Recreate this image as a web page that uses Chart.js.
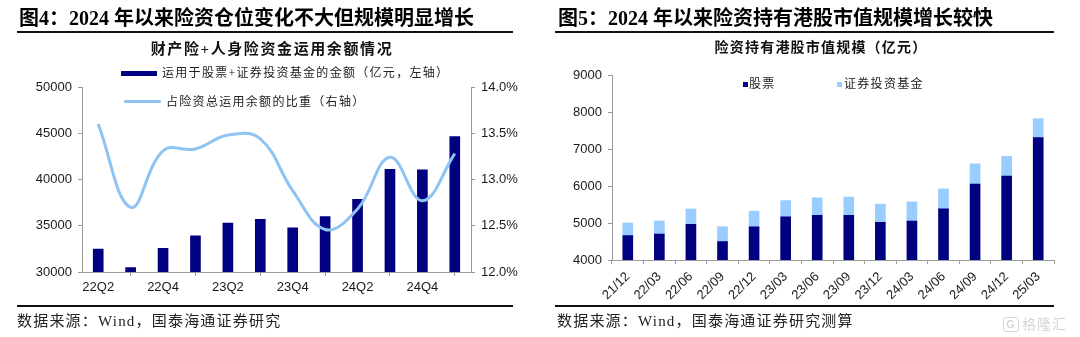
<!DOCTYPE html>
<html>
<head>
<meta charset="utf-8">
<script src="https://cdn.jsdelivr.net/npm/chart.js@4/dist/chart.umd.min.js"></script>
<style>
  html, body { margin: 0; padding: 0; background: #fff; }
  #page { position: relative; width: 1080px; height: 337px; overflow: hidden; background: #fff; }
  .cv { position: absolute; top: 0; width: 540px; height: 337px; }
  .ov { position: absolute; white-space: nowrap; pointer-events: none; color: #111; }
  .fig-title { font-family: "Liberation Serif", "Noto Sans CJK SC", serif; font-weight: bold; font-size: 20px; line-height: 24px; top: 6px; color: #000; }
  .rule { position: absolute; height: 2px; background: #111; }
  .sub { font-family: "Liberation Serif", "Noto Sans CJK SC", serif; font-weight: bold; line-height: 20px; text-align: center; }
  .lg { font-family: "Liberation Serif", "Noto Sans CJK SC", serif; font-size: 12px; line-height: 16px; letter-spacing: 1.3px; color: #222; }
  .src { font-family: "Liberation Serif", "Noto Sans CJK SC", serif; font-size: 15px; line-height: 20px; top: 311px; letter-spacing: 1.2px; color: #222; }
  .sw { position: absolute; }
  .wm { font-family: "Noto Sans CJK SC", sans-serif; font-size: 14px; line-height: 18px; color: #d6d6d6; top: 314px; left: 1003px; letter-spacing: 1px; }
  .wm b { display: inline-block; border: 1.5px solid #d6d6d6; border-radius: 3px; font-family: "Liberation Sans", sans-serif; font-size: 11px; line-height: 13px; width: 14px; text-align: center; margin-right: 3px; vertical-align: 1px; }
</style>
</head>
<body>
<div id="page">
  <canvas id="leftChart" class="cv" style="left:0" width="540" height="337"></canvas>
  <canvas id="rightChart" class="cv" style="left:540px" width="540" height="337"></canvas>

  <!-- left figure: headings, legend, source -->
  <div class="ov fig-title" style="left:19px">图4：2024 年以来险资仓位变化不大但规模明显增长</div>
  <div class="rule" style="left:17px; top:31px; width:496px"></div>
  <div class="ov sub" style="left:140px; width:264px; top:39px; font-size:15px; letter-spacing:1.6px">财产险+人身险资金运用余额情况</div>
  <div class="sw" style="left:121px; top:71px; width:36px; height:5px; background:#000080"></div>
  <div class="ov lg" style="left:162px; top:65px">运用于股票+证券投资基金的金额（亿元，左轴）</div>
  <div class="sw" style="left:124px; top:100px; width:37px; height:3px; background:#8EC3F2; border-radius:1px"></div>
  <div class="ov lg" style="left:166px; top:94px">占险资总运用余额的比重（右轴）</div>
  <div class="rule" style="left:17px; top:305px; width:496px"></div>
  <div class="ov src" style="left:17px">数据来源：Wind，国泰海通证券研究</div>

  <!-- right figure: headings, legend, source -->
  <div class="ov fig-title" style="left:558px">图5：2024 年以来险资持有港股市值规模增长较快</div>
  <div class="rule" style="left:555px; top:31px; width:499px"></div>
  <div class="ov sub" style="left:700px; width:242px; top:38px; font-size:14px; letter-spacing:1.2px">险资持有港股市值规模（亿元）</div>
  <div class="sw" style="left:743px; top:82px; width:5px; height:5px; background:#000080"></div>
  <div class="ov lg" style="left:749px; top:76px">股票</div>
  <div class="sw" style="left:837px; top:82px; width:5px; height:5px; background:#99CCFF"></div>
  <div class="ov lg" style="left:844px; top:76px">证券投资基金</div>
  <div class="rule" style="left:555px; top:305px; width:499px"></div>
  <div class="ov src" style="left:557px">数据来源：Wind，国泰海通证券研究测算</div>
  <div class="ov wm"><b>G</b>格隆汇</div>
</div>

<script>
// Figure 4: insurance funds in equities + securities investment funds
const quarters = ['22Q2', '22Q3', '22Q4', '23Q1', '23Q2', '23Q3', '23Q4', '24Q1', '24Q2', '24Q3', '24Q4', '25Q1'];
const equityFundAmount = [32480, 30480, 32550, 33900, 35300, 35700, 34780, 36000, 37850, 41100, 41050, 44650]; // 亿元
const equityFundShare = [13.60, 12.70, 13.31, 13.33, 13.48, 13.44, 12.88, 12.46, 12.68, 13.24, 12.77, 13.28];   // %
const leftAxisTicks = { min: 30000, max: 50000, step: 5000 };
const rightAxisTicks = { min: 12, max: 14, step: 0.5 };

// Figure 5: market value of Hong Kong stocks held by insurance funds
const periods = ['21/12', '22/03', '22/06', '22/09', '22/12', '23/03', '23/06', '23/09', '23/12', '24/03', '24/06', '24/09', '24/12', '25/03'];
const stockValue = [4660, 4700, 4965, 4495, 4895, 5170, 5210, 5210, 5020, 5055, 5380, 6050, 6270, 7310]; // 股票
const fundValue = [340, 355, 415, 405, 425, 435, 470, 490, 490, 515, 540, 550, 530, 510];                // 证券投资基金
const valueAxisTicks = { min: 4000, max: 9000, step: 1000 };

const NAVY = '#000080';
const LIGHT_BLUE = '#99CCFF';
const LINE_BLUE = '#8EC3F2';
const AXIS_GREY = '#9a9a9a';
const TICK_FONT = { family: '"Liberation Sans", Arial, sans-serif', size: 13 };
const TICK_COLOR = '#1a1a1a';

Chart.defaults.animation = false;
Chart.defaults.responsive = false;
Chart.defaults.devicePixelRatio = 1;

function fixWidth(w) { return function (scale) { scale.width = w; }; }
function fixHeight(h) { return function (scale) { scale.height = h; }; }

function sideAxis(position, range, fmt, width) {
  return {
    type: 'linear',
    position: position,
    min: range.min,
    max: range.max,
    afterFit: fixWidth(width),
    border: { color: AXIS_GREY, width: 1 },
    grid: { drawOnChartArea: false, drawTicks: true, tickLength: 4, color: AXIS_GREY },
    ticks: { stepSize: range.step, font: TICK_FONT, color: TICK_COLOR, padding: 6, callback: fmt }
  };
}

new Chart(document.getElementById('leftChart'), {
  type: 'bar',
  data: {
    labels: quarters,
    datasets: [
      {
        type: 'line',
        label: '占险资总运用余额的比重（右轴）',
        data: equityFundShare,
        yAxisID: 'y1',
        borderColor: LINE_BLUE,
        borderWidth: 3,
        pointRadius: 0,
        tension: 0.4,
        fill: false,
        order: 0
      },
      {
        type: 'bar',
        label: '运用于股票+证券投资基金的金额（亿元，左轴）',
        data: equityFundAmount,
        yAxisID: 'y',
        backgroundColor: NAVY,
        barThickness: 10,
        order: 1
      }
    ]
  },
  options: {
    layout: { padding: { top: 87, left: 0, right: 0, bottom: 0 } },
    plugins: { legend: { display: false }, tooltip: { enabled: false }, title: { display: false } },
    scales: {
      x: {
        offset: true,
        afterFit: fixHeight(65),
        border: { color: AXIS_GREY, width: 1 },
        grid: { offset: true, drawOnChartArea: false, drawTicks: true, tickLength: 4, color: AXIS_GREY },
        ticks: {
          autoSkip: false, maxRotation: 0, minRotation: 0, padding: 4,
          font: TICK_FONT, color: TICK_COLOR,
          callback: function (value, index) { return index % 2 === 0 ? this.getLabelForValue(value) : null; }
        }
      },
      y: sideAxis('left', leftAxisTicks, v => String(v), 82),
      y1: sideAxis('right', rightAxisTicks, v => v.toFixed(1) + '%', 69)
    }
  }
});

new Chart(document.getElementById('rightChart'), {
  type: 'bar',
  data: {
    labels: periods,
    datasets: [
      { label: '股票', data: stockValue, backgroundColor: NAVY, barThickness: 10 },
      { label: '证券投资基金', data: fundValue, backgroundColor: LIGHT_BLUE, barThickness: 10 }
    ]
  },
  options: {
    layout: { padding: { top: 75, left: 0, right: 26, bottom: 0 } },
    plugins: { legend: { display: false }, tooltip: { enabled: false }, title: { display: false } },
    scales: {
      x: {
        stacked: true,
        offset: true,
        afterFit: fixHeight(77),
        border: { color: AXIS_GREY, width: 1 },
        grid: { offset: true, drawOnChartArea: false, drawTicks: true, tickLength: 4, color: AXIS_GREY },
        ticks: { autoSkip: false, maxRotation: 45, minRotation: 45, padding: 5, font: TICK_FONT, color: TICK_COLOR }
      },
      y: Object.assign(sideAxis('left', valueAxisTicks, v => String(v), 72), { stacked: true })
    }
  }
});
</script>
</body>
</html>
